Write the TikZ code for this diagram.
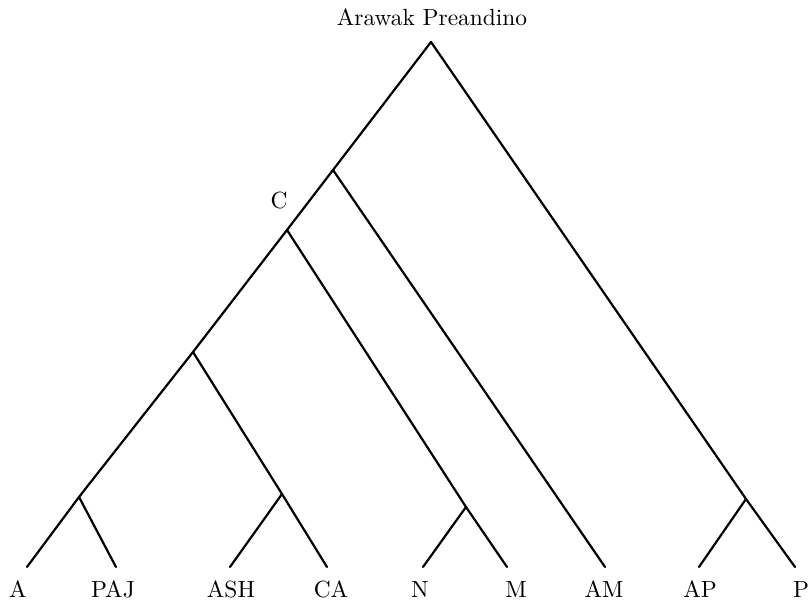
\documentclass[tikz,border=0pt]{standalone}
\usepackage{graphicx}
\newcommand{\biglab}[1]{\scalebox{2.34}{\fontsize{10}{12}\selectfont #1}}
\begin{document}
\begin{tikzpicture}[x=1pt,y=-1pt,
  branch/.style={line width=2.2pt,line cap=round},
  lab/.style={inner sep=0pt,anchor=base}]
\useasboundingbox (0,0) rectangle (809,601);
% vertices
\coordinate (root) at (431,42);
\coordinate (b1) at (333,170);
\coordinate (cc) at (287,230);
\coordinate (b3) at (193,352);
\coordinate (b4) at (79,497);
\coordinate (b5) at (282,494);
\coordinate (b6) at (466,507);
\coordinate (b7) at (746,499);
% leaves
\coordinate (lA) at (27,567);
\coordinate (lPAJ) at (116,567);
\coordinate (lASH) at (230,567);
\coordinate (lCA) at (327,567);
\coordinate (lN) at (423,567);
\coordinate (lM) at (507,567);
\coordinate (lAM) at (605,567);
\coordinate (lAP) at (699,567);
\coordinate (lP) at (795,567);
% labels
\node[lab] (tRoot) at (432,26) {\biglab{Arawak Preandino}};
\node[lab] (tC) at (279,209) {\biglab{C}};
\node[lab] (tA) at (18,597) {\biglab{A}};
\node[lab] (tPAJ) at (113,597) {\biglab{PAJ}};
\node[lab] (tASH) at (231,597) {\biglab{ASH}};
\node[lab] (tCA) at (331,597) {\biglab{CA}};
\node[lab] (tN) at (420,597) {\biglab{N}};
\node[lab] (tM) at (516,597) {\biglab{M}};
\node[lab] (tAM) at (604,597) {\biglab{AM}};
\node[lab] (tAP) at (700,597) {\biglab{AP}};
\node[lab] (tP) at (801,597) {\biglab{P}};
% branches
\draw[branch] (root) -- (b1) -- (cc) -- (b3) -- (b4) -- (lA);
\draw[branch] (root) -- (b7) -- (lP);
\draw[branch] (b1) -- (lAM);
\draw[branch] (cc) -- (b6) -- (lM);
\draw[branch] (b3) -- (b5) -- (lCA);
\draw[branch] (b4) -- (lPAJ);
\draw[branch] (b5) -- (lASH);
\draw[branch] (b6) -- (lN);
\draw[branch] (b7) -- (lAP);
\end{tikzpicture}
\end{document}
